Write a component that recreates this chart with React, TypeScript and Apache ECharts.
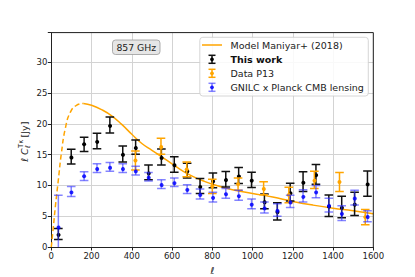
import React, { useEffect, useRef } from "react";
import * as echarts from "echarts";

const FONT = "DejaVu Sans";

const xTicks = [0, 200, 400, 600, 800, 1000, 1200, 1400, 1600];
const yTicks = [0, 5, 10, 15, 20, 25, 30];

const modelEll = [0, 10, 20, 35, 50, 70, 95, 125, 160, 200, 250, 300, 350, 400, 450, 500, 550, 600, 650, 700, 750, 800, 900, 1000, 1100, 1200, 1300, 1400, 1500, 1600];
const modelVal = [0, 3.2, 6.5, 10.9, 15.2, 19.3, 21.9, 23.0, 23.3, 23.0, 22.3, 21.3, 19.9, 18.3, 16.8, 15.7, 14.6, 13.5, 12.4, 11.5, 10.8, 10.2, 9.3, 8.7, 8.1, 7.4, 6.8, 6.3, 5.9, 5.4];
const modelDashEnd = 160;

const binEll = [35, 99, 163, 227, 291, 355, 419, 483, 547, 611, 675, 739, 803, 867, 931, 995, 1059, 1123, 1187, 1251, 1315, 1379, 1443, 1507, 1571];
const thisWorkVal = [2.1, 14.66, 16.67, 17.2, 19.8, 15.1, 16.2, 12.1, 14.6, 13.4, 12.4, 9.9, 10.8, 11.0, 11.6, 10.9, 7.4, 5.8, 8.9, 10.6, 11.8, 6.7, 6.5, 7.0, 10.3];
const thisWorkErr = [0.9, 1.2, 1.15, 1.25, 1.3, 1.3, 1.15, 1.2, 1.3, 1.25, 1.2, 1.2, 1.2, 1.25, 1.3, 1.25, 1.2, 1.4, 1.45, 1.6, 1.6, 1.75, 1.75, 1.9, 2.05];

const p13Ell = [418, 545, 673, 800, 928, 1055, 1180, 1307, 1432, 1560];
const p13Val = [14.05, 16.35, 12.6, 9.85, 10.2, 9.55, 8.45, 10.9, 10.55, 4.85];
const p13Err = [1.55, 1.3, 1.2, 1.15, 1.0, 1.05, 1.25, 1.4, 1.55, 1.25];

const gnilcVal = [3.3, 9.0, 11.5, 12.8, 13.0, 12.8, 12.4, 11.4, 10.2, 10.5, 9.4, 8.6, 8.1, 8.7, 8.4, 7.0, 6.4, 6.0, 7.4, 8.3, 9.0, 6.8, 5.5, 8.0, 5.0];
const gnilcErr = [5.1, 0.8, 0.7, 0.7, 0.7, 0.7, 0.7, 0.7, 0.7, 0.7, 0.7, 0.8, 0.8, 0.8, 0.8, 0.8, 0.9, 1.0, 1.0, 1.0, 1.0, 1.1, 1.2, 1.2, 0.9];

const ORANGE = "#ffa500";
const BLUE_MARK = "rgba(0,0,255,0.85)";
const BLUE_BAR = "rgba(50,50,255,0.6)";

function errRender(markColor: string, barColor: string, r: number, lw: number, cap: number) {
  return (params: any, api: any) => {
    const x = api.value(0);
    const y = api.value(1);
    const e = api.value(2);
    const p = api.coord([x, y]);
    const pt = api.coord([x, y + e]);
    const pb = api.coord([x, y - e]);
    return {
      type: "group",
      children: [
        { type: "line", shape: { x1: pt[0], y1: pt[1], x2: pb[0], y2: pb[1] }, style: { stroke: barColor, lineWidth: lw } },
        { type: "line", shape: { x1: pt[0] - cap, y1: pt[1], x2: pt[0] + cap, y2: pt[1] }, style: { stroke: barColor, lineWidth: lw } },
        { type: "line", shape: { x1: pb[0] - cap, y1: pb[1], x2: pb[0] + cap, y2: pb[1] }, style: { stroke: barColor, lineWidth: lw } },
        { type: "circle", shape: { cx: p[0], cy: p[1], r }, style: { fill: markColor } },
      ],
    };
  };
}

function legendErr(x: number, y: number, color: string, barColor: string) {
  const z = 12;
  return [
    { type: "line", z, shape: { x1: x, y1: y - 4, x2: x, y2: y + 4 }, style: { stroke: barColor, lineWidth: 1.5 } },
    { type: "line", z, shape: { x1: x - 3.5, y1: y - 4, x2: x + 3.5, y2: y - 4 }, style: { stroke: barColor, lineWidth: 1.5 } },
    { type: "line", z, shape: { x1: x - 3.5, y1: y + 4, x2: x + 3.5, y2: y + 4 }, style: { stroke: barColor, lineWidth: 1.5 } },
    { type: "circle", z, shape: { cx: x, cy: y, r: 1.9 }, style: { fill: color } },
  ];
}

export default function App() {
  const ref = useRef<HTMLDivElement>(null);
  useEffect(() => {
    if (!ref.current) return;
    const chart = echarts.init(ref.current, undefined, { renderer: "svg" });
    const dashData = modelEll.map((e, i) => [e, modelVal[i]]).filter((d) => d[0] <= modelDashEnd);
    const solidData = modelEll.map((e, i) => [e, modelVal[i]]).filter((d) => d[0] >= modelDashEnd);
    const twData = binEll.map((e, i) => [e, thisWorkVal[i], thisWorkErr[i]]);
    const p13Data = p13Ell.map((e, i) => [e, p13Val[i], p13Err[i]]);
    const gData = binEll.map((e, i) => [e, gnilcVal[i], gnilcErr[i]]);

    const lx = 202;
    const tx = 230.5;
    const rows = [45, 59.3, 73.3, 87.3];
    const LF = 9.5;

    chart.setOption({
      animation: false,
      grid: { left: 51.3, right: 41.7, top: 32.6, bottom: 30, containLabel: false },
      xAxis: {
        type: "value",
        min: 0,
        max: 1600,
        interval: 200,
        axisLine: { show: true, onZero: false, lineStyle: { color: "#222", width: 1 } },
        axisTick: { show: true, length: 3.5, lineStyle: { color: "#222" } },
        axisLabel: {
          color: "#222",
          fontSize: 8.5,
          fontFamily: FONT,
          margin: 4,
          formatter: (v: number) => (xTicks.indexOf(v) >= 0 ? String(v) : ""),
        },
        splitLine: { show: true, lineStyle: { color: "#d3d3d3", width: 1 } },
      },
      yAxis: {
        type: "value",
        min: 0,
        max: 34.8,
        interval: 5,
        axisLine: { show: true, onZero: false, lineStyle: { color: "#222", width: 1 } },
        axisTick: { show: true, length: 3.5, lineStyle: { color: "#222" } },
        axisLabel: {
          color: "#222",
          fontSize: 8.5,
          fontFamily: FONT,
          margin: 4,
          formatter: (v: number) => (yTicks.indexOf(v) >= 0 ? String(v) : ""),
        },
        splitLine: { show: true, lineStyle: { color: "#d3d3d3", width: 1 } },
      },
      series: [
        { type: "line", data: dashData, smooth: true, showSymbol: false, lineStyle: { color: ORANGE, width: 1.5, type: [5, 3] }, z: 2 },
        { type: "line", data: solidData, smooth: true, showSymbol: false, lineStyle: { color: ORANGE, width: 1.5 }, z: 2 },
        { type: "custom", data: twData, clip: true, renderItem: errRender("#000", "#111", 2, 1.5, 4.3), z: 3 },
        { type: "custom", data: p13Data, clip: true, renderItem: errRender(ORANGE, ORANGE, 2, 1.5, 4.3), z: 4 },
        { type: "custom", data: gData, clip: true, renderItem: errRender(BLUE_MARK, BLUE_BAR, 2, 1.5, 4.3), z: 5 },
      ],
      graphic: [
        { type: "line", shape: { x1: 51.3, y1: 32.6, x2: 373.3, y2: 32.6 }, style: { stroke: "#222", lineWidth: 1 }, z: 10 },
        { type: "line", shape: { x1: 373.3, y1: 32.6, x2: 373.3, y2: 247 }, style: { stroke: "#222", lineWidth: 1 }, z: 10 },
        { type: "rect", shape: { x: 112.5, y: 40, width: 47.5, height: 14.5, r: 3 }, style: { fill: "#e6e6e6", stroke: "#9a9a9a", lineWidth: 0.8 }, z: 10 },
        { type: "text", x: 136.3, y: 47.4, style: { text: "857 GHz", fontSize: 9.3, fontFamily: FONT, fill: "#222", align: "center", verticalAlign: "middle" }, z: 11 },
        { type: "rect", shape: { x: 199.8, y: 37.3, width: 168.5, height: 58.7, r: 3 }, style: { fill: "rgba(255,255,255,0.85)", stroke: "#cccccc", lineWidth: 0.8 }, z: 10 },
        { type: "line", shape: { x1: lx, y1: rows[0], x2: lx + 20, y2: rows[0] }, style: { stroke: ORANGE, lineWidth: 1.5 }, z: 12 },
        ...legendErr(lx + 10, rows[1], "#000", "#111"),
        ...legendErr(lx + 10, rows[2], ORANGE, ORANGE),
        ...legendErr(lx + 10, rows[3], BLUE_MARK, BLUE_BAR),
        { type: "text", x: tx, y: rows[0], style: { text: "Model Maniyar+ (2018)", fontSize: LF, fontFamily: FONT, fill: "#222", verticalAlign: "middle" }, z: 12 },
        { type: "text", x: tx, y: rows[1], style: { text: "This work", fontSize: LF, fontWeight: "bold", fontFamily: FONT, fill: "#111", verticalAlign: "middle" }, z: 12 },
        { type: "text", x: tx, y: rows[2], style: { text: "Data P13", fontSize: LF, fontFamily: FONT, fill: "#222", verticalAlign: "middle" }, z: 12 },
        { type: "text", x: tx, y: rows[3], style: { text: "GNILC x Planck CMB lensing", fontSize: LF, fontFamily: FONT, fill: "#222", verticalAlign: "middle" }, z: 12 },
        { type: "text", x: 212.3, y: 270.5, style: { text: "ℓ", fontSize: 9.5, fontStyle: "italic", fontFamily: FONT, fill: "#222", align: "center", verticalAlign: "middle" }, z: 11 },
        {
          type: "group",
          x: 24,
          y: 162,
          rotation: Math.PI / 2,
          z: 11,
          children: [
            { type: "text", z: 11, x: 0, y: 0, style: { text: "ℓ C", fontSize: 9.5, fontStyle: "italic", fontFamily: FONT, fill: "#222", verticalAlign: "middle" } },
            { type: "text", z: 11, x: 14, y: -3.5, style: { text: "Tκ", fontSize: 6.8, fontFamily: FONT, fill: "#222", verticalAlign: "middle" } },
            { type: "text", z: 11, x: 14, y: 3.5, style: { text: "ℓ", fontSize: 6.8, fontStyle: "italic", fontFamily: FONT, fill: "#222", verticalAlign: "middle" } },
            { type: "text", z: 11, x: 24.5, y: 0, style: { text: "[Jy]", fontSize: 9.5, fontFamily: FONT, fill: "#222", verticalAlign: "middle" } },
          ],
        },
      ],
    });
    return () => chart.dispose();
  }, []);
  return <div ref={ref} style={{ width: 415, height: 277, position: "absolute", left: 0, top: 0 }} />;
}
